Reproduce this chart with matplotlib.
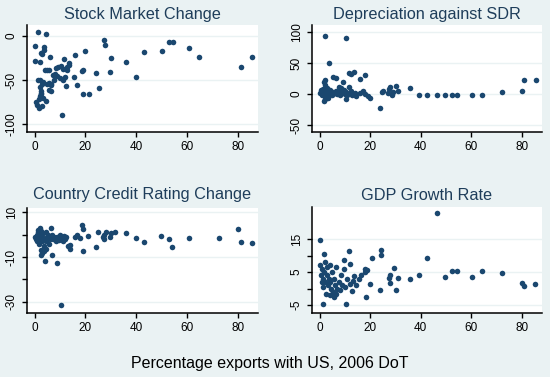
import matplotlib.pyplot as plt

# (percentage exports with US, value)
stock_market = [(1.5, 4.9), (4.4, 1.9), (0.1, -11), (3.7, -13), (3.7, -16), (2.6, -19.7), (2.9, -20),
                (6.1, -23.5), (0.1, -28), (2.0, -30), (11.6, -26), (12.9, -35.6), (13.5, -31), (16.0, -22),
                (19.9, -16.7), (27.5, -4.5), (27.8, -10.6), (30.2, -24.6), (36.0, -29), (42.9, -17.8),
                (50.0, -16.7), (53.1, -6.8), (54.5, -6.8), (60.9, -13.3), (64.8, -23.5), (81.3, -35),
                (85.5, -23.5), (4.0, -38.6), (4.8, -38.6), (5.5, -38.6), (8.6, -36), (9.4, -35), (10.2, -34),
                (11.0, -37), (12.7, -38.6), (13.6, -33), (18.6, -40), (19.0, -39), (24.2, -41.7), (29.7, -41),
                (7.3, -44), (9.0, -45), (10.0, -48), (11.0, -50), (12.0, -47), (15.6, -47), (2.3, -50),
                (2.8, -54), (2.2, -58), (2.6, -62), (2.4, -65), (5.0, -55), (5.7, -53), (6.6, -56), (6.3, -54),
                (12.5, -57), (16.5, -56), (25.2, -59.5), (40.0, -47), (5.5, -61), (6.3, -62), (2.0, -68),
                (2.7, -66), (3.3, -70), (1.6, -72), (0.6, -75), (1.0, -78), (1.6, -82), (2.8, -80), (4.4, -74),
                (10.7, -90), (18.9, -66), (21.3, -66), (3.2, -52), (1.2, -50), (7.8, -50), (8.0, -43)]

depreciation = [(2.0, 94), (10.6, 90), (3.7, 50.5), (5.5, 27), (6.5, 26), (9.2, 20), (11.5, 34), (12.5, 33),
                (13.5, 35), (15.8, 24), (17.8, 30), (1.8, 19), (2.3, 22), (2.0, 14), (11.6, 12), (7.5, 12),
                (8.5, 10), (0.3, 2), (0.5, 6), (0.8, -1), (1.0, 4), (1.2, 8), (1.5, 0), (1.7, 3), (2.0, 6),
                (2.2, -3), (2.5, 1), (2.8, 5), (3.0, 9), (3.2, -2), (3.5, 3), (3.8, 0), (4.0, 6), (4.5, 2),
                (5.0, -1), (5.5, 4), (6.0, 1), (6.5, 5), (7.0, 0), (7.5, 3), (8.0, -2), (8.5, 4), (9.0, 1),
                (9.5, 6), (10.0, 0), (10.5, 3), (11.0, -2), (12.0, 2), (12.5, 5), (13.0, -1), (1.6, -11),
                (2.2, -8), (3.5, -6), (10.6, -8), (14.0, 1), (14.5, -3), (16.0, 2), (17.2, 5), (18.0, 0),
                (19.0, -3), (20.0, -6), (23.8, -22), (24.5, 3), (25.0, 5), (27.0, 2), (27.5, 8), (28.0, 12),
                (28.5, -1), (29.0, 4), (30.3, 13), (31.2, 5), (35.6, 9), (39.2, -1.6), (42.6, -1.6),
                (46.5, -1.6), (49.5, -1.6), (52.4, -1.6), (54.4, -1.6), (60.3, -1.6), (64.2, -1.6),
                (72.3, 2.7), (79.9, 5), (81.0, 22.6), (85.5, 22.6)]

credit_rating = [(10.3, -31.3), (9.0, -12.8), (4.1, -11.8), (2.6, -9.1), (6.7, -9.1), (3.0, -8), (3.5, -7.5),
                 (2.4, -7), (6.3, 3), (18.6, 4.2), (18.9, 2.5), (18.9, -7.3), (13.9, -6.4), (14.0, -4.5),
                 (16.0, -1), (16.8, 0), (18.0, -1.5), (21.0, -0.7), (24.2, -5.4), (24.8, 1.2), (27.0, -1),
                 (27.5, 0), (27.2, -2), (28.0, 1), (29.5, -1), (30.0, 0.5), (31.8, 1.2), (36.0, 0.5),
                 (40.0, -1.4), (42.9, -3.5), (49.9, -0.5), (52.9, -2), (54.3, -5.4), (60.9, -1.4), (72.7, -1.4),
                 (80.0, 2.4), (81.3, -3.2), (85.5, -3.6), (0.3, -1), (0.5, -2), (0.8, 0), (1.0, -3), (1.2, 1),
                 (1.5, -1), (1.8, -4), (2.0, 0), (2.2, -2), (2.5, 1.5), (2.8, -3), (3.0, -1), (3.3, 0.5),
                 (3.6, -5), (4.0, -2), (4.3, 1), (4.6, -3), (5.0, -1), (5.4, 0), (5.8, -4), (6.2, -2), (6.8, 0),
                 (7.2, -2), (7.8, -1), (8.5, -3), (9.0, -1), (9.5, -2.5), (10.0, 0), (10.5, -1.5), (11.0, -3),
                 (11.5, -0.5), (12.0, -2), (12.5, -1), (13.0, -5), (1.5, 2), (2.3, 3), (3.8, -6), (4.5, -6.5)]

gdp_growth = [(46.5, 23), (0.3, 14.7), (1.6, 10.5), (11.5, 11.3), (9.6, 8.6), (11.9, 7.3), (24.3, 11.7),
              (24.3, 10.2), (20.9, 9.3), (42.6, 9.3), (29.4, 6.1), (31.0, 3.3), (35.6, 2.9), (39.4, 4.1),
              (52.4, 5.3), (54.4, 5.3), (64.2, 5.3), (72.3, 4.8), (49.5, 3.4), (60.5, 3.6), (79.9, 1.6),
              (81.0, 0.8), (85.4, 1.4), (27.5, 3.2), (27.8, 1.6), (28.0, 4.0), (30.4, -0.5), (23.8, -0.5),
              (18.5, -2.7), (19.8, 1.4), (1.3, -4.7), (10.6, -4.7), (5.9, -2.5), (18.0, 5.0), (18.8, 5.5),
              (17.8, 5.9), (16.2, 4.0), (15.5, 3.0), (14.5, 1.0), (13.2, 2.2), (13.6, 3.8), (13.0, -0.6),
              (0.2, 7), (0.5, 4), (0.8, 2), (1.0, 6), (1.2, 3), (1.5, 0.5), (1.8, 5), (2.0, 8), (2.2, 2),
              (2.5, -1.5), (2.8, 4), (3.0, 6.5), (3.3, 1), (3.6, 3), (4.0, 7), (4.3, 2), (4.6, 0), (5.0, 5),
              (5.4, -1), (5.8, 3), (6.2, 1), (6.6, 6.5), (7.0, 0), (7.5, 2), (8.0, -0.5), (8.5, 4), (9.0, 1),
              (9.5, 6), (10.0, 0.5), (11.0, 3), (12.0, 1.5), (6.4, -1.5), (4.0, -2)]

titles = ['Stock Market Change', 'Depreciation against SDR', 'Country Credit Rating Change', 'GDP Growth Rate']
x_ticks = [0, 20, 40, 60, 80]
y_ticks = [[0, -50, -100], [100, 50, 0, -50], [10, 0, -10, -20, -30], [15, 10, 5, 0, -5]]
y_labels = [['0', '-50', '-100'], ['100', '50', '0', '-50'], ['10', '', '-10', '', '-30'], ['15', '', '5', '', '-5']]
y_limits = [(-109, 12.5), (-61, 111), (-34.9, 11.8), (-7.4, 24.7)]

bg = '#eaf2f3'
navy = '#1a476f'
plt.rcParams['font.family'] = ['Liberation Sans', 'DejaVu Sans']

fig = plt.figure(figsize=(5.5, 3.77), dpi=100, facecolor=bg)
W, H = 550, 377
# axes boxes in pixels: left, right, top, bottom
boxes = [(27, 258, 25, 132), (312, 542, 25, 132), (27, 258, 208, 313), (312, 542, 207, 313)]
title_base = [19.5, 19.5, 199.5, 199.5]
datasets = [stock_market, depreciation, credit_rating, gdp_growth]

for i in range(4):
    l, r, t, b = boxes[i]
    ax = fig.add_axes([l / W, 1 - b / H, (r - l) / W, (b - t) / H])
    ax.set_facecolor('white')
    xs = [p[0] for p in datasets[i]]
    ys = [p[1] for p in datasets[i]]
    ax.plot(xs, ys, 'o', color=navy, markersize=4.0, markeredgewidth=0, zorder=3)
    ax.set_xlim(-3, 88)
    ax.set_ylim(*y_limits[i])
    ax.set_xticks(x_ticks)
    ax.set_yticks(y_ticks[i])
    ax.set_yticklabels(y_labels[i], rotation=90, va='center')
    for yv, lab in zip(y_ticks[i], y_labels[i]):
        if lab != '':
            ax.axhline(yv, color=bg, linewidth=1.0, zorder=1)
    for s in ['top', 'right']:
        ax.spines[s].set_visible(False)
    for s in ['left', 'bottom']:
        ax.spines[s].set_linewidth(1.1)
    ax.tick_params(direction='out', length=3.5, width=1, labelsize=8.5, pad=3, colors='black')
    fig.text((l + r) / 2 / W, 1 - title_base[i] / H, titles[i], ha='center', va='baseline',
             fontsize=11.7, color='#1e3d5a')

fig.text(0.49, 1 - 368 / H, 'Percentage exports with US, 2006 DoT', ha='center', va='baseline',
         fontsize=11.5, color='black')

plt.savefig('out.png', dpi=100, facecolor=bg)
